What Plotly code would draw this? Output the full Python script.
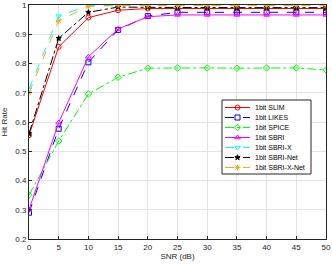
import plotly.graph_objects as go

snr = [0, 5, 10, 15, 20, 25, 30, 35, 40, 45, 50]
slim = [0.555, 0.857, 0.957, 0.982, 0.988, 0.988, 0.988, 0.988, 0.988, 0.988, 0.988]
likes = [0.29, 0.577, 0.804, 0.915, 0.962, 0.975, 0.975, 0.975, 0.975, 0.975, 0.975]
spice = [0.35, 0.535, 0.696, 0.753, 0.784, 0.785, 0.785, 0.784, 0.785, 0.785, 0.778]
sbri = [0.30, 0.598, 0.823, 0.918, 0.960, 0.966, 0.966, 0.966, 0.966, 0.966, 0.966]
sbri_x = [0.712, 0.962, 0.998, 0.999, 0.999, 0.999, 0.999, 0.999, 0.999, 0.999, 0.999]
sbri_net = [0.56, 0.886, 0.975, 0.993, 0.992, 0.991, 0.991, 0.991, 0.991, 0.991, 0.991]
sbri_x_net = [0.70, 0.946, 0.995, 0.998, 0.998, 0.998, 0.998, 0.998, 0.998, 0.998, 0.998]

series = [
    ("1bit SLIM", slim, "#ff0000", "solid", "circle-open", 5),
    ("1bit LIKES", likes, "#0000ff", "dash", "square-open", 5),
    ("1bit SPICE", spice, "#00ff00", "dashdot", "diamond-open", 5),
    ("1bit SBRI", sbri, "#ff00ff", "solid", "triangle-up-open", 5),
    ("1bit SBRI-X", sbri_x, "#00ffff", "dash", "triangle-down-open", 5),
    ("1bit SBRI-Net", sbri_net, "#000000", "dashdot", "star", 4),
    ("1bit SBRI-X-Net", sbri_x_net, "#edb120", "dash", "asterisk-open", 5),
]

FONT = "Arial, Liberation Sans"
fig = go.Figure()
for name, y, c, dash, sym, sz in series:
    fig.add_trace(go.Scatter(
        x=snr, y=y, name=name, mode="lines+markers", showlegend=False,
        line=dict(color=c, dash=dash, width=1),
        marker=dict(symbol=sym, size=sz, color=c, line=dict(color=c, width=1)),
    ))

# custom compact legend drawn on an overlay axis in pixel-like units
L, R, T, B = 29, 326, 5, 239
box_x0, box_x1, box_y0, box_y1 = 222, 311, 100, 174
row0, rowgap = 107.5, 10


def px_to_x(p):
    return (p - L) / (R - L) * 50


def px_to_y(p):
    return 0.2 + (B - p) / (B - T) * 0.8


fig.add_shape(type="rect", xref="x", yref="y",
              x0=px_to_x(box_x0), x1=px_to_x(box_x1), y0=px_to_y(box_y0), y1=px_to_y(box_y1),
              line=dict(color="#262626", width=1), fillcolor="white", layer="between")
for i, (name, y, c, dash, sym, sz) in enumerate(series):
    yy = row0 + i * rowgap
    fig.add_trace(go.Scatter(
        x=[225, 237.5, 250], y=[yy, yy, yy], xaxis="x2", yaxis="y2", mode="lines",
        line=dict(color=c, dash=dash, width=1), showlegend=False, hoverinfo="skip"))
    fig.add_trace(go.Scatter(
        x=[237.5], y=[yy], xaxis="x2", yaxis="y2", mode="markers",
        marker=dict(symbol=sym, size=sz, color=c, line=dict(color=c, width=1)),
        showlegend=False, hoverinfo="skip"))
    fig.add_annotation(x=252.5, y=yy, xref="x2", yref="y2", text=name, showarrow=False,
                       xanchor="left", yanchor="middle",
                       font=dict(family=FONT, size=7, color="#000000"))

axis_common = dict(
    showgrid=True, gridcolor="#e3e3e3", gridwidth=1,
    showline=True, linecolor="#262626", linewidth=1, mirror=True,
    ticks="inside", ticklen=3, tickcolor="#262626",
    tickfont=dict(family=FONT, size=8, color="#262626"),
    zeroline=False, automargin=False,
)

fig.update_layout(
    width=332, height=267,
    margin=dict(l=L, r=332 - R, t=T, b=267 - B),
    paper_bgcolor="white", plot_bgcolor="white",
    xaxis=dict(range=[0, 50], dtick=5, title=dict(text="SNR (dB)", standoff=2,
               font=dict(family=FONT, size=8, color="#262626")), **axis_common),
    yaxis=dict(range=[0.2, 1.0], dtick=0.1, title=dict(text="Hit Rate",
               font=dict(family=FONT, size=8, color="#262626")), **axis_common),
    xaxis2=dict(overlaying="x", range=[L, R], visible=False, fixedrange=True),
    yaxis2=dict(overlaying="y", range=[B, T], visible=False, fixedrange=True),
    showlegend=False,
)

fig.write_html(
    "out.html",
    config={"displayModeBar": False, "staticPlot": True},
    post_script="document.body.style.margin='0';document.body.style.padding='0';document.body.style.overflow='hidden';",
)
